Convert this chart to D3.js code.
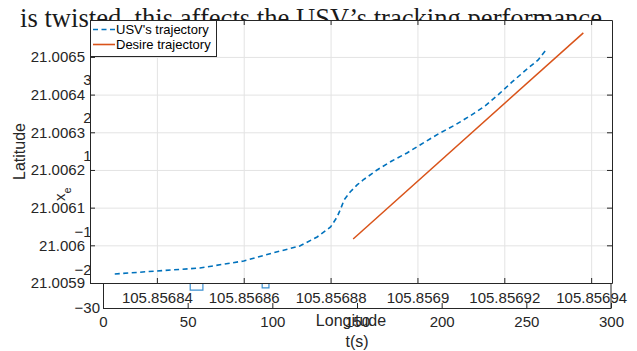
<!DOCTYPE html>
<html>
<head>
<meta charset="utf-8">
<script src="https://cdn.jsdelivr.net/npm/d3@7"></script>
<style>
  body { margin: 0; background: #fff; }
  svg { display: block; font-family: "Liberation Sans", Arial, sans-serif; }
  .ax path, .ax line { stroke: #262626; stroke-width: 1; }
  .ax text { fill: #262626; font-size: 15px; }
  .grid line { stroke: #e3e3e3; stroke-width: 1; }
  .grid path { display: none; }
</style>
</head>
<body>
<svg id="chart"></svg>
<script>
// ---- data: USV path vs desired path (Longitude / Latitude) ----
const usvLon = [105.8568303, 105.85684, 105.8568499, 105.85686, 105.8568667, 105.8568729,
  105.8568769, 105.85688, 105.8568815, 105.8568824, 105.8568831, 105.8568845, 105.8568861,
  105.8568875, 105.8568907, 105.8568941, 105.8568976, 105.8569006, 105.8569052, 105.8569087,
  105.8569121, 105.8569156, 105.8569188, 105.8569218, 105.856925, 105.8569278, 105.8569296];
const usvLat = [21.0059239, 21.0059319, 21.0059398, 21.0059584, 21.0059797, 21.0059982,
  21.0060221, 21.0060487, 21.0060752, 21.0060991, 21.0061204, 21.0061416, 21.0061602,
  21.0061735, 21.0062, 21.0062239, 21.0062452, 21.0062664, 21.0062983, 21.0063195,
  21.0063434, 21.00637, 21.0064018, 21.0064337, 21.0064655, 21.0064921, 21.0065186];
const desLon = [105.8568852, 105.8569382];
const desLat = [21.0060168, 21.0065638];
const lonTicks = [105.85684, 105.85686, 105.85688, 105.8569, 105.85692, 105.85694];
const latTicks = [21.0059, 21.006, 21.0061, 21.0062, 21.0063, 21.0064, 21.0065];

// ---- the figure underneath (x_e vs t), mostly hidden ----
const tTicks = [0, 50, 100, 150, 200, 250, 300];
const xeTicks = [-30, -20, -10, 0, 10, 20, 30];
const xeT = [51.5, 51.5, 59, 59, 94, 94, 98, 98];
const xeVal = [-20, -25.3, -25.3, -20, -20, -24.7, -24.7, -20];

const caption = "is twisted, this affects the USV\u2019s tracking performance";

const W = 637, H = 351;
const svg = d3.select("#chart").attr("width", W).attr("height", H);

// ---------- back figure ----------
const back = svg.append("g");
const t = d3.scaleLinear().domain([0, 300]).range([103, 611]);
const xe = d3.scaleLinear().domain([-30, 30]).range([308, 80]);

back.append("path")
    .datum(xeT.map((d, i) => [d, xeVal[i]]))
    .attr("fill", "none")
    .attr("stroke", "#3a8fd0")
    .attr("stroke-width", 1.2)
    .attr("d", d3.line().x(d => t(d[0])).y(d => xe(d[1])));

back.append("g").attr("class", "ax")
    .attr("transform", "translate(0,308)")
    .call(d3.axisBottom(t).tickValues(tTicks).tickSizeInner(-5).tickSizeOuter(0).tickPadding(8.5));
back.append("g").attr("class", "ax")
    .attr("transform", "translate(103,0)")
    .call(d3.axisLeft(xe).tickValues(xeTicks).tickSizeInner(-5).tickSizeOuter(0).tickPadding(3));
back.append("line")
    .attr("x1", 611).attr("x2", 611).attr("y1", 80).attr("y2", 308)
    .attr("stroke", "#262626");

back.append("text")
    .attr("transform", "translate(357,347)")
    .attr("text-anchor", "middle")
    .attr("fill", "#262626")
    .style("font-size", "16px")
    .text("t(s)");

const xl = back.append("text")
    .attr("transform", "translate(65,201) rotate(-90)")
    .attr("fill", "#262626")
    .style("font-size", "15px");
xl.append("tspan").text("x");
xl.append("tspan").attr("dy", 6).style("font-size", "11px").text("e");

// ---------- caption text from the page ----------
svg.append("text")
    .attr("x", 20).attr("y", 27)
    .attr("fill", "#1a1a1a")
    .attr("textLength", 582)
    .attr("lengthAdjust", "spacingAndGlyphs")
    .style("font-family", "'Liberation Serif', 'Times New Roman', serif")
    .style("font-size", "28px")
    .text(caption);

// ---------- front figure ----------
const margin = { top: 20, right: 25, bottom: 68, left: 90 };
const width = W - margin.left - margin.right;
const height = H - margin.top - margin.bottom;

const g = svg.append("g").attr("transform", `translate(${margin.left},${margin.top})`);

const x = d3.scaleLinear().domain([105.8568246, 105.8569448]).range([0, width]);
const y = d3.scaleLinear().domain([21.0059, 21.006598]).range([height, 0]);

g.append("rect").attr("width", width).attr("height", height).attr("fill", "#fff");

g.append("g").attr("class", "grid")
    .attr("transform", `translate(0,${height})`)
    .call(d3.axisBottom(x).tickValues(lonTicks).tickSize(-height).tickFormat(""));
g.append("g").attr("class", "grid")
    .call(d3.axisLeft(y).tickValues(latTicks).tickSize(-width).tickFormat(""));

const line = d3.line().x(d => x(d[0])).y(d => y(d[1]));

g.append("path")
    .datum(usvLon.map((d, i) => [d, usvLat[i]]))
    .attr("fill", "none")
    .attr("stroke", "#0072BD")
    .attr("stroke-width", 1.6)
    .attr("stroke-dasharray", "5,3.5")
    .attr("d", line);

g.append("path")
    .datum(desLon.map((d, i) => [d, desLat[i]]))
    .attr("fill", "none")
    .attr("stroke", "#D95319")
    .attr("stroke-width", 1.5)
    .attr("d", line);

// axes (MATLAB style: box on, ticks inward)
g.append("g").attr("class", "ax")
    .attr("transform", `translate(0,${height})`)
    .call(d3.axisBottom(x).tickValues(lonTicks).tickFormat(d => +d.toFixed(5))
        .tickSizeInner(-5).tickSizeOuter(0).tickPadding(9.5));
g.append("g").attr("class", "ax")
    .call(d3.axisLeft(y).tickValues(latTicks).tickFormat(d => +d.toFixed(4))
        .tickSizeInner(-5).tickSizeOuter(0).tickPadding(5));
g.append("g").attr("class", "ax")
    .call(d3.axisTop(x).tickValues(lonTicks).tickFormat("").tickSizeInner(-5).tickSizeOuter(0));
g.append("g").attr("class", "ax")
    .attr("transform", `translate(${width},0)`)
    .call(d3.axisRight(y).tickValues(latTicks).tickFormat("").tickSizeInner(-5).tickSizeOuter(0));

g.append("text")
    .attr("x", width / 2).attr("y", height + 43)
    .attr("text-anchor", "middle")
    .attr("fill", "#262626")
    .style("font-size", "16px")
    .text("Longitude");

g.append("text")
    .attr("transform", `translate(${25 - margin.left},${height / 2}) rotate(-90)`)
    .attr("text-anchor", "middle")
    .attr("fill", "#262626")
    .style("font-size", "16px")
    .text("Latitude");

// legend
const legend = g.append("g");
legend.append("rect")
    .attr("x", 0.5).attr("y", 0.5).attr("width", 126).attr("height", 36)
    .attr("fill", "#fff").attr("stroke", "#262626");
const items = [
    { name: "USV's trajectory", color: "#0072BD", dash: "5,3.5" },
    { name: "Desire trajectory", color: "#D95319", dash: null }
];
items.forEach((it, i) => {
    const yy = 9.5 + i * 15;
    legend.append("line")
        .attr("x1", 3).attr("x2", 25).attr("y1", yy).attr("y2", yy)
        .attr("stroke", it.color).attr("stroke-width", 1.6)
        .attr("stroke-dasharray", it.dash);
    legend.append("text")
        .attr("x", 26).attr("y", yy).attr("dy", "0.35em")
        .attr("fill", "#000")
        .style("font-size", "13px")
        .text(it.name);
});
</script>
</body>
</html>
